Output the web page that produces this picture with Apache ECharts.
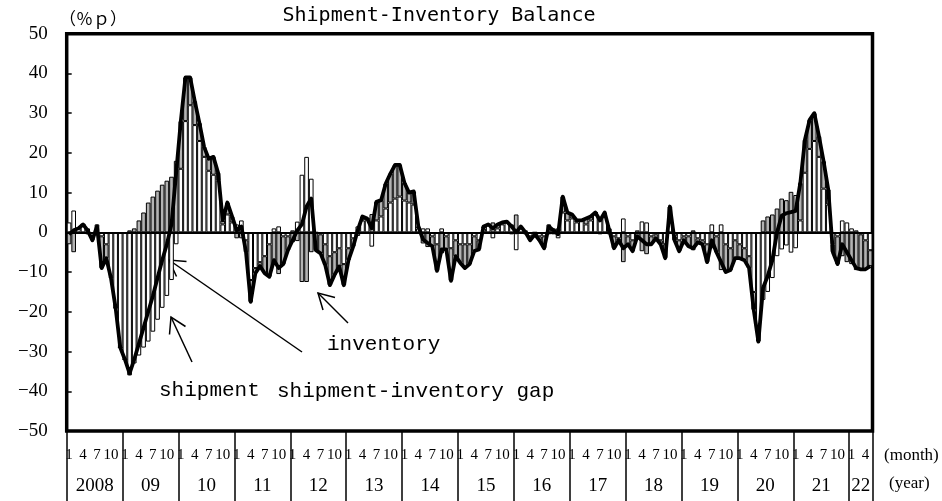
<!DOCTYPE html>
<html><head><meta charset="utf-8">
<script src="https://cdn.jsdelivr.net/npm/echarts/dist/echarts.min.js"></script>
<style>html,body{margin:0;padding:0;background:#fff}#c{width:942px;height:501px}</style>
</head><body><div id="c"></div>
<script>
const years = [2008,2009,2010,2011,2012,2013,2014,2015,2016,2017,2018,2019,2020,2021,2022];
const monthsInLastYear = 5;
const monthTickLabels = ['1','4','7','10'];
const yearLabels = ['2008','09','10','11','12','13','14','15','16','17','18','19','20','21','22'];

// white bars: shipment (y/y %)
const shipment = [
  2.5, 5.5, 1, 2, 1, -1, 2, -1, -3, -11, -19, -29,
  -32, -36, -33, -31, -29, -27.5, -25, -22, -19, -16, -12, -3,
  16, 28, 32, 27, 23, 19, 15.5, 14.5, 13, 2, 4.5, 2.5,
  2, 3, -2, -12, -9, -7.5, -6, -3, 1, 1.5, -1, -1,
  0.5, 2.7, 14.5, 19, 13.5, 0, -0.5, -3, -6, -5, -4, -8,
  -4, -1.5, 1.5, 3, 3.5, -3.6, 3, 4, 6, 7.5, 8.5, 9,
  8, 7.5, 7, 1, 1, 1, -1, -3, 1, -1, -4, -2,
  -3, -3, -3, -1, -2, 1, 2, -1.5, 1, 2, 2.5, 2,
  -4.5, 1, -0.5, -1, 0, -1, -1, 2, 1, -1.5, 5, 3,
  3.5, 2.5, 3, 2, 3, 5, 3.5, 4.5, 1, -1, -1.5, 3.5,
  -1, -2, 0.5, 2.75, 2.5, -1, -0.5, -2, -3, 3, -1, -2,
  -1, -1, 0.5, -1.5, -2, -3, 2, -1, 2, -3, -4, -2,
  -3, -4, -6, -15, -24, -17, -15, -11.5, -6, -4.3, -3.3, -5.1,
  -4, 3, 15, 21, 23, 19, 11, 7, -3, -1, 3, 2.5,
  1, 0.5, -0.5, -2, -4.5
];
// gray bars: inventory (sign reversed, stacked on shipment)
const inventory = [
  -3, -5, 0, 0, -0.5, -1, -0.5, -8, -3.5, -0.5, 0, 0,
  0, 0.5, 1, 3, 5, 7.5, 9, 10.5, 12, 13, 14, 18,
  12, 11, 7, 6, 4.5, 2.5, 3, 4.5, 2, 1, 3, 1.5,
  -1.5, -1.5, -3, -5.5, -1.3, -1, -4.3, -8.2, -8, -10.5, -7, -3.5,
  -2.5, -2.2, -12.5, -12.5, -5, -4.5, -4.8, -5.2, -7.3, -5.7, -4.6, -5.3,
  -3, -2.1, -0.9, 1, 0, 4.6, 4.7, 4.1, 6.3, 7.3, 8.5, 8,
  4.5, 2.5, 3.3, 0.5, -2.8, -3.7, -2.5, -6.7, -5.3, -3.3, -8.2, -4,
  -4.7, -6, -5, -3.7, -2.3, 0.5, 0, 2.5, 1, 0.5, 0.2, -0.5,
  4.5, 0.5, 0.5, -1, -0.5, -1, -3, -0.5, -0.5, 1, 4, 2,
  1, 0.5, 0, 1.5, 1, 0, -0.5, 0.5, -0.5, -3, -0.5, -7.5,
  -2, -2.75, -1.5, -4.75, -5.5, -2, -1, -1, -3.5, 3.5, -1, -2.75,
  -1, -2.5, -4.5, -1, -1, -4.5, -4, -4, -9.5, -7, -5.5, -4.5,
  -3.5, -3, -3, -4.5, -3.5, 3, 4, 4.5, 6, 8.5, 8.1, 10.2,
  9.4, 9.4, 8.3, 7.3, 7, 5.2, 6.9, 3.8, -2, -7, -6, -7.5,
  -8, -9.5, -8.8, -7.3, -4
];
// line: shipment-inventory gap
const gap = [
  -0.5, 0.5, 1, 2, 0.5, -2, 1.5, -9, -6.5, -11.5, -19, -29,
  -32, -35.5, -32, -28, -24, -20, -16, -11.5, -7, -3, 2, 15,
  28, 39, 39, 33, 27.5, 21.5, 18.5, 19, 15, 3, 7.5, 4,
  0.5, 1.5, -5, -17.5, -10.3, -8.5, -10.3, -11.2, -7, -9, -8, -4.5,
  -2, 0.5, 2, 6.5, 8.5, -4.5, -5.3, -8.2, -13.3, -10.7, -8.6, -13.3,
  -7, -3.6, 0.6, 4, 3.5, 1, 7.7, 8.1, 12.3, 14.8, 17, 17,
  12.5, 10, 10.3, 1.5, -1.8, -2.7, -3.5, -9.7, -4.3, -4.3, -12.2, -6,
  -7.7, -9, -8, -4.7, -4.3, 1.5, 2, 1, 2, 2.5, 2.7, 1.5,
  0, 1.5, 0, -2, -0.5, -2, -4, 1.5, 0.5, -0.5, 9, 5,
  4.5, 3, 3, 3.5, 4, 5, 3, 5, 0.5, -4, -2, -4,
  -3, -4.75, -1, -2, -3, -3, -1.5, -3, -6.5, 6.5, -2, -4.75,
  -2, -3.5, -4, -2.5, -3, -7.5, -2, -5, -7.5, -10, -9.5, -6.5,
  -6.5, -7, -9, -19.5, -27.5, -14, -11, -7, 0, 4.2, 4.8, 5.1,
  5.4, 12.4, 23.3, 28.3, 30, 24.2, 17.9, 10.8, -5, -8, -3, -5,
  -7, -9, -9.3, -9.3, -8.5
];

const categories = [];
years.forEach((y, yi) => {
  const n = yi === years.length - 1 ? monthsInLastYear : 12;
  for (let m = 1; m <= n; m++) categories.push(y + '-' + (m < 10 ? '0' + m : m));
});
const monthOf = v => String(parseInt(v.split('-')[1], 10));
const yearIdx = v => years.indexOf(parseInt(v.split('-')[0], 10));
const yearLabelIndex = (i) => {
  const yi = Math.floor(i / 12);
  const n = yi === years.length - 1 ? monthsInLastYear : 12;
  return (i % 12) === Math.floor(n / 2);
};

const serif = "'Liberation Serif', 'Times New Roman', serif";
const mono = "'Liberation Mono', 'DejaVu Sans Mono', monospace";

const chart = echarts.init(document.getElementById('c'), null, {renderer: 'canvas'});
chart.setOption({
  animation: false,
  backgroundColor: '#fff',
  grid: {left: 66.7, top: 33.7, width: 805.8, height: 397.3, show: true,
         borderColor: '#000', borderWidth: 3.5, backgroundColor: 'transparent',
         containLabel: false, outerBoundsMode: 'none'},
  xAxis: [
    {type: 'category', data: categories, position: 'bottom', boundaryGap: true,
     axisLine: {show: true, onZero: false, lineStyle: {color: '#000', width: 1}},
     axisTick: {show: true, interval: i => i % 12 === 0, length: 70, lineStyle: {color: '#000', width: 1.5}},
     axisLabel: {interval: (i, v) => monthTickLabels.includes(monthOf(v)), formatter: v => monthOf(v),
                 margin: 17, color: '#000', fontFamily: serif, fontSize: 15},
     splitLine: {show: false}},
    {type: 'category', data: categories, position: 'bottom', boundaryGap: true,
     axisLine: {show: false, onZero: false}, axisTick: {show: false},
     axisLabel: {interval: (i) => yearLabelIndex(i),
                 formatter: (v, i) => {
                   const yi = yearIdx(v);
                   const full = yi !== years.length - 1;
                   return full ? '{a|' + yearLabels[yi] + '}' : '{b|' + yearLabels[yi] + '}';
                 },
                 rich: {a: {padding: [0, 4.66, 0, 0], fontFamily: serif, fontSize: 19, color: '#000'},
                        b: {fontFamily: serif, fontSize: 19, color: '#000'}},
                 margin: 46, color: '#000', fontFamily: serif, fontSize: 19},
     splitLine: {show: false}}
  ],
  yAxis: {type: 'value', min: -50, max: 50, interval: 10,
          axisLine: {show: false},
          axisTick: {show: true, inside: true, length: 5, lineStyle: {color: '#000', width: 1.5}},
          axisLabel: {color: '#000', fontFamily: serif, fontSize: 19, margin: 19,
                      formatter: v => String(v).replace('-', '\u2212')},
          splitLine: {show: false}},
  series: [
    {name: 'shipment', type: 'bar', stack: 'bal', data: shipment, barCategoryGap: '0%',
     itemStyle: {color: '#ffffff', borderColor: '#000', borderWidth: 1}},
    {name: 'inventory', type: 'bar', stack: 'bal', data: inventory,
     itemStyle: {color: '#b3b3b3', borderColor: '#000', borderWidth: 1}},
    {name: 'shipment-inventory gap', type: 'line', data: gap, symbol: 'none', z: 5,
     lineStyle: {color: '#000', width: 3.8, join: 'round'},
     markLine: {silent: true, symbol: 'none', label: {show: false},
                lineStyle: {color: '#000', width: 2, type: 'solid'},
                data: [{yAxis: 0}]}}
  ],
  graphic: [
    {type: 'text', x: 439, y: 16, style: {text: 'Shipment-Inventory Balance', font: "20px 'DejaVu Sans Mono', monospace", fill: '#000', textAlign: 'center', textVerticalAlign: 'middle'}},
    {type: 'text', x: 59, y: 19, style: {text: '（％ｐ）', font: "17px 'Noto Sans CJK JP', sans-serif", fill: '#000', textAlign: 'left', textVerticalAlign: 'middle'}},
    {type: 'text', x: 884, y: 456, style: {text: '(month)', font: "17px " + serif, fill: '#000', textAlign: 'left', textVerticalAlign: 'middle'}},
    {type: 'text', x: 889, y: 484, style: {text: '(year)', font: "17px " + serif, fill: '#000', textAlign: 'left', textVerticalAlign: 'middle'}},
    {type: 'text', x: 327, y: 344, style: {text: 'inventory', font: "21px " + mono, fill: '#000', textAlign: 'left', textVerticalAlign: 'middle'}},
    {type: 'text', x: 159, y: 390, style: {text: 'shipment', font: "21px " + mono, fill: '#000', textAlign: 'left', textVerticalAlign: 'middle'}},
    {type: 'text', x: 277, y: 391, style: {text: 'shipment-inventory gap', font: "21px " + mono, fill: '#000', textAlign: 'left', textVerticalAlign: 'middle'}},
    {type: 'polyline', shape: {points: [[302, 352], [169, 260]]}, style: {stroke: '#000', lineWidth: 1.5, fill: null}},
    {type: 'polyline', shape: {points: [[186.5, 261.5], [169, 260], [176.5, 276.5]]}, style: {stroke: '#000', lineWidth: 1.5, fill: null}},
    {type: 'polyline', shape: {points: [[192, 362], [171, 317]]}, style: {stroke: '#000', lineWidth: 1.5, fill: null}},
    {type: 'polyline', shape: {points: [[185.5, 326.5], [171, 317], [169.5, 334.5]]}, style: {stroke: '#000', lineWidth: 1.5, fill: null}},
    {type: 'polyline', shape: {points: [[348, 323], [318, 293]]}, style: {stroke: '#000', lineWidth: 1.5, fill: null}},
    {type: 'polyline', shape: {points: [[335, 297.5], [318, 293], [323, 310]]}, style: {stroke: '#000', lineWidth: 1.5, fill: null}}
  ]
});
</script>
</body></html>
